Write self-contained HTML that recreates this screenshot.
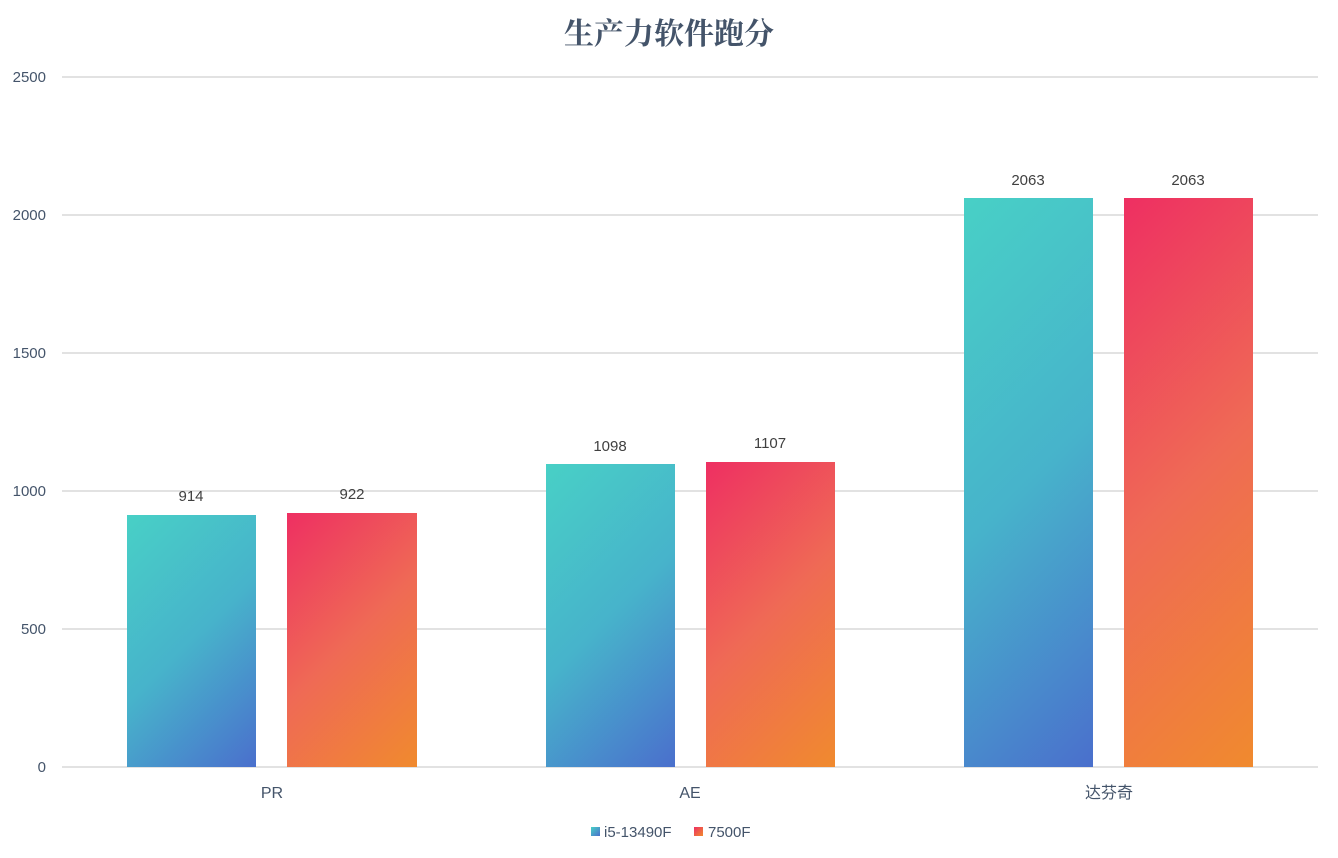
<!DOCTYPE html>
<html><head><meta charset="utf-8"><style>
html,body{margin:0;padding:0;background:#fff;}
svg{display:block;}
</style></head><body>
<svg width="1338" height="858" xmlns="http://www.w3.org/2000/svg" font-family="'Liberation Sans','Noto Sans CJK SC',sans-serif">
<defs>
<linearGradient id="b1" gradientUnits="userSpaceOnUse" x1="127" y1="515" x2="317.5" y2="705.5"><stop offset="0" stop-color="#48d0c6"/><stop offset="0.5" stop-color="#47b3cb"/><stop offset="1" stop-color="#4a6fcc"/></linearGradient>
<linearGradient id="r1" gradientUnits="userSpaceOnUse" x1="287" y1="513" x2="479" y2="705"><stop offset="0" stop-color="#ee2f62"/><stop offset="0.5" stop-color="#ef6a55"/><stop offset="1" stop-color="#f08a2e"/></linearGradient>
<linearGradient id="b2" gradientUnits="userSpaceOnUse" x1="546" y1="464" x2="762" y2="680"><stop offset="0" stop-color="#48d0c6"/><stop offset="0.5" stop-color="#47b3cb"/><stop offset="1" stop-color="#4a6fcc"/></linearGradient>
<linearGradient id="r2" gradientUnits="userSpaceOnUse" x1="706" y1="462" x2="923" y2="679"><stop offset="0" stop-color="#ee2f62"/><stop offset="0.5" stop-color="#ef6a55"/><stop offset="1" stop-color="#f08a2e"/></linearGradient>
<linearGradient id="b3" gradientUnits="userSpaceOnUse" x1="964" y1="198" x2="1313" y2="547"><stop offset="0" stop-color="#48d0c6"/><stop offset="0.5" stop-color="#47b3cb"/><stop offset="1" stop-color="#4a6fcc"/></linearGradient>
<linearGradient id="r3" gradientUnits="userSpaceOnUse" x1="1124" y1="198" x2="1473" y2="547"><stop offset="0" stop-color="#ee2f62"/><stop offset="0.5" stop-color="#ef6a55"/><stop offset="1" stop-color="#f08a2e"/></linearGradient>
<linearGradient id="gb" x1="0" y1="0" x2="1" y2="1"><stop offset="0" stop-color="#48d0c6"/><stop offset="1" stop-color="#4a6fcc"/></linearGradient>
<linearGradient id="gr" x1="0" y1="0" x2="1" y2="1"><stop offset="0" stop-color="#ee2f62"/><stop offset="1" stop-color="#f08a2e"/></linearGradient>
</defs>
<rect width="1338" height="858" fill="#fff"/>
<text x="669" y="44" text-anchor="middle" font-size="30" font-weight="bold" fill="#44546a" font-family="'Noto Serif CJK SC','Noto Sans CJK SC',serif">生产力软件跑分</text>
<g stroke="#d9d9d9" stroke-width="1.5">
<line x1="62" y1="77" x2="1318" y2="77"/>
<line x1="62" y1="215" x2="1318" y2="215"/>
<line x1="62" y1="353" x2="1318" y2="353"/>
<line x1="62" y1="491" x2="1318" y2="491"/>
<line x1="62" y1="629" x2="1318" y2="629"/>
<line x1="62" y1="767" x2="1318" y2="767"/>
</g>
<g font-size="15" fill="#44546a" text-anchor="end">
<text x="46" y="82">2500</text>
<text x="46" y="220">2000</text>
<text x="46" y="358">1500</text>
<text x="46" y="496">1000</text>
<text x="46" y="634">500</text>
<text x="46" y="772">0</text>
</g>
<rect x="127" y="515" width="129" height="252" fill="url(#b1)"/>
<rect x="287" y="513" width="130" height="254" fill="url(#r1)"/>
<rect x="546" y="464" width="129" height="303" fill="url(#b2)"/>
<rect x="706" y="462" width="129" height="305" fill="url(#r2)"/>
<rect x="964" y="198" width="129" height="569" fill="url(#b3)"/>
<rect x="1124" y="198" width="129" height="569" fill="url(#r3)"/>
<g font-size="15" fill="#404040" text-anchor="middle">
<text x="191" y="501">914</text>
<text x="352" y="499">922</text>
<text x="610" y="451">1098</text>
<text x="770" y="448">1107</text>
<text x="1028" y="185">2063</text>
<text x="1188" y="185">2063</text>
</g>
<g font-size="16" fill="#44546a" text-anchor="middle">
<text x="272" y="798">PR</text>
<text x="690" y="798">AE</text>
<text x="1109" y="798">达芬奇</text>
</g>
<rect x="591" y="827" width="9" height="9" fill="url(#gb)"/>
<text x="604" y="837" font-size="15" fill="#44546a">i5-13490F</text>
<rect x="694" y="827" width="9" height="9" fill="url(#gr)"/>
<text x="708" y="837" font-size="15" fill="#44546a">7500F</text>
</svg>
</body></html>
